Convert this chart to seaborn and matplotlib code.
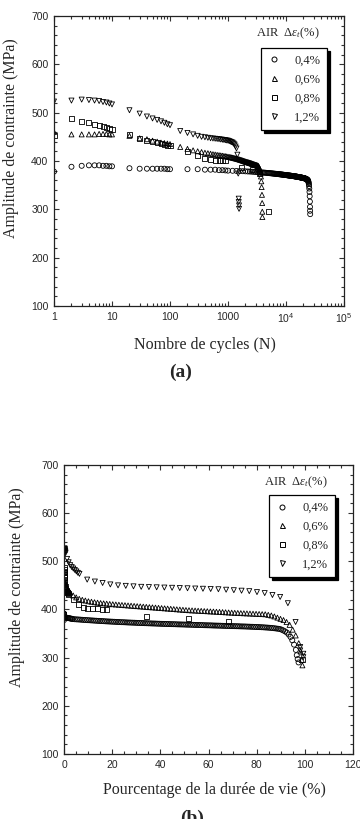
import seaborn as sns
import pandas as pd
import numpy as np
import matplotlib.pyplot as plt
from matplotlib.lines import Line2D
from matplotlib.ticker import LogLocator, MultipleLocator, NullFormatter


strains = ['0,4%', '0,6%', '0,8%', '1,2%']
markers = {'0,4%': 'o', '0,6%': '^', '0,8%': 's', '1,2%': 'v'}
# fatigue life (cycles) used for the % of life panel
life = {'0,4%': 26800, '0,6%': 3950, '0,8%': 5050, '1,2%': 1560}

cycles_04 = [1, 2, 3, 4, 5, 6, 7, 8, 9, 10, 20, 30, 40, 50, 60, 70, 80, 90, 100,
             200, 300, 400, 500, 600, 700, 800, 900,
             1000, 1200, 1400, 1600, 1800, 2000, 2200, 2400, 2600, 2800,
             3000, 3200, 3400, 3600, 3800, 4000, 4200, 4400, 4600, 4800,
             5000, 5200, 5400, 5600, 5800, 6000, 6200, 6400, 6600, 6800,
             7000, 7200, 7400, 7600, 7800, 8000, 8200, 8400, 8600, 8800,
             9000, 9200, 9400, 9600, 9800, 10000, 10200, 10400, 10600, 10800,
             11000, 11200, 11400, 11600, 11800, 12000, 12200, 12400, 12600, 12800,
             13000, 13200, 13400, 13600, 13800, 14000, 14200, 14400, 14600, 14800,
             15000, 15200, 15400, 15600, 15800, 16000, 16200, 16400, 16600, 16800,
             17000, 17200, 17400, 17600, 17800, 18000, 18200, 18400, 18600, 18800,
             19000, 19200, 19400, 19600, 19800, 20000, 20200, 20400, 20600, 20800,
             21000, 21200, 21400, 21600, 21800, 22000, 22200, 22400, 22600, 22800,
             23000, 23200, 23400, 23600, 23800, 24000, 24200, 24400, 24600, 24800,
             25000, 25200, 25400, 25600, 25800, 25900, 26000, 26100]
stress_04 = [378, 388, 390, 391, 391, 391, 390, 390, 389, 389, 385, 384, 384, 384, 384, 384, 384, 383, 383,
             383, 383, 382, 382, 382, 381, 381, 380.5,
             380.0, 379.7, 379.4, 379.2, 378.9, 378.6, 378.3, 378.1, 377.8, 377.6,
             377.3, 377.1, 376.8, 376.6, 376.3, 376.1, 375.9, 375.7, 375.4, 375.2,
             375.0, 374.8, 374.6, 374.4, 374.2, 374.0, 373.8, 373.6, 373.5, 373.3,
             373.1, 372.9, 372.8, 372.6, 372.5, 372.3, 372.1, 372.0, 371.8, 371.7,
             371.5, 371.4, 371.2, 371.1, 370.9, 370.8, 370.7, 370.5, 370.4, 370.2,
             370.1, 370.0, 369.9, 369.7, 369.6, 369.5, 369.4, 369.3, 369.1, 369.0,
             368.9, 368.8, 368.7, 368.5, 368.4, 368.3, 368.2, 368.1, 367.9, 367.8,
             367.7, 367.6, 367.5, 367.3, 367.2, 367.1, 367.0, 366.9, 366.7, 366.6,
             366.5, 366.4, 366.3, 366.1, 366.0, 365.9, 365.8, 365.7, 365.5, 365.4,
             365.3, 365.2, 365.1, 364.9, 364.8, 364.7, 364.6, 364.4, 364.3, 364.1,
             364.0, 363.8, 363.6, 363.5, 363.3, 363.1, 362.9, 362.6, 362.4, 362.1,
             361.8, 361.4, 361.0, 360.5, 360.0, 359.5, 358.2, 356.5, 354.5, 352.0,
             348.0, 343.0, 336.0, 327.0, 316.0, 305.0, 297.0, 290.0]

cycles_06 = [1, 2, 3, 4, 5, 6, 7, 8, 9, 10, 20, 30, 40, 50, 60, 70, 80, 90, 100,
             150, 200, 250, 300, 350, 400, 450, 500, 550, 600,
             650, 700, 750, 800, 850, 900, 950, 1000, 1050, 1100,
             1150, 1200, 1250, 1300, 1350, 1400, 1450, 1500, 1550, 1600,
             1650, 1700, 1750, 1800, 1850, 1900, 1950, 2000, 2050, 2100,
             2150, 2200, 2250, 2300, 2350, 2400, 2450, 2500, 2550, 2600,
             2650, 2700, 2750, 2800, 2850, 2900, 2950, 3000, 3050, 3100,
             3150, 3200, 3250, 3300, 3350, 3400, 3450, 3500, 3550, 3600,
             3650, 3700, 3750, 3800, 3850, 3880, 3900, 3910]
stress_06 = [460, 455, 455, 455, 455, 456, 456, 456, 455, 455, 452, 447, 445, 442, 440, 438, 437, 436, 435,
             429, 425, 422, 420, 418.5, 417, 416, 415, 414, 413.3,
             412.6, 412.0, 411.4, 410.8, 410.3, 409.8, 409.3, 408.8, 408.3, 407.8,
             407.3, 406.8, 406.3, 405.8, 405.3, 404.8, 404.3, 403.8, 403.3, 402.8,
             402.3, 401.8, 401.3, 400.8, 400.3, 399.8, 399.3, 398.8, 398.4, 398.0,
             397.7, 397.3, 397.0, 396.6, 396.3, 395.9, 395.6, 395.2, 394.9, 394.5,
             394.1, 393.7, 393.3, 393.0, 392.7, 392.4, 392.1, 391.8, 391.5, 391.2,
             390.9, 390.6, 390.3, 390.0, 388.8, 387.5, 385.5, 383.0, 380.5, 378.0,
             374.0, 368.0, 358.0, 346.0, 330.0, 313.0, 295.0, 284.0]

cycles_08 = [1, 2, 3, 4, 5, 6, 7, 8, 9, 10, 20, 30, 40, 50, 60, 70, 80, 90, 100,
             200, 300, 400, 500, 600, 700, 800, 900, 1725, 2600, 3450, 5000]
stress_08 = [452, 487, 482, 479, 476, 473, 471, 469, 467, 466, 455, 447, 443, 440, 438, 436, 435, 433, 432,
             420, 411, 405, 403, 402, 401, 400.5, 400, 386, 382, 374, 296]

cycles_12 = [1, 2, 3, 4, 5, 6, 7, 8, 9, 10, 20, 30, 40, 50, 60, 70, 80, 90, 100,
             150, 200, 250, 300, 350, 400, 450, 500, 550, 600,
             650, 700, 750, 800, 850, 900, 950, 1000, 1050, 1100,
             1150, 1200, 1250, 1300, 1350, 1400, 1450, 1500,
             1530, 1530, 1550, 1550]
stress_12 = [523, 525, 527, 526, 525, 524, 522, 521, 519, 517, 505, 498, 492, 488, 485, 482, 479, 476, 474,
             462, 458, 455, 452, 450, 449, 448, 447, 446.5, 446,
             445.5, 445, 444.5, 444, 443.5, 443, 442.5, 442, 441, 440,
             439, 438, 436, 434, 430, 426, 413, 374,
             322, 315, 308, 301]

x_ticks = [1, 10, 100, 1000, 1e4, 1e5]
x_ticklabels = ['1', '10', '100', '1000', r'$\mathsf{10^4}$', r'$\mathsf{10^5}$']


frames = []
for name, n, s in zip(strains, [cycles_04, cycles_06, cycles_08, cycles_12],
                      [stress_04, stress_06, stress_08, stress_12]):
    d = pd.DataFrame({'cycles': n, 'stress': s})
    d['strain'] = name
    d['pct'] = d['cycles'] / life[name] * 100
    frames.append(d)
df = pd.concat(frames, ignore_index=True)

sns.set_style('ticks')
plt.rcParams['font.family'] = ['Liberation Sans', 'DejaVu Sans']
plt.rcParams['mathtext.fontset'] = 'custom'
plt.rcParams['mathtext.rm'] = 'Liberation Serif'
plt.rcParams['mathtext.it'] = 'Liberation Serif:italic'
plt.rcParams['mathtext.sf'] = 'Liberation Sans'
plt.rcParams['mathtext.fallback'] = 'stix'
serif = 'Liberation Serif'

fig = plt.figure(figsize=(3.6, 8.19), dpi=100)
ax1 = fig.add_axes([0.15, 0.6264, 0.8056, 0.3541])
ax2 = fig.add_axes([0.1778, 0.0794, 0.8028, 0.3529])


def style_axes(ax):
    ax.set_ylim(100, 700)
    ax.yaxis.set_major_locator(MultipleLocator(100))
    ax.yaxis.set_minor_locator(MultipleLocator(20))
    ax.tick_params(which='both', direction='in', top=True, right=True,
                   labelsize=7.5, width=0.8, color='#333333')
    ax.tick_params(which='major', length=3.5, pad=4)
    ax.tick_params(which='minor', length=2)
    for sp in ax.spines.values():
        sp.set_linewidth(0.9)
        sp.set_color('#222222')
    ax.set_ylabel('Amplitude de contrainte (MPa)', family=serif, fontsize=11.5)
    handles = [Line2D([], [], marker=markers[k], ls='none', mfc='none', mec='k',
                      ms=3.6, mew=0.7) for k in strains]
    leg = ax.legend(handles, strains, loc='upper right', frameon=True, fancybox=False,
                    edgecolor='k', shadow={'color': 'k', 'alpha': 1},
                    prop={'family': serif, 'size': 9}, handlelength=1.0,
                    handletextpad=1.1, borderpad=0.55, labelspacing=0.55,
                    borderaxespad=0, framealpha=1)
    leg.get_frame().set_linewidth(0.9)
    return leg


# (a) stress amplitude vs number of cycles
sns.scatterplot(data=df, x='cycles', y='stress', style='strain', markers=markers,
                style_order=strains, facecolor='none', edgecolor='k', linewidth=0.6,
                s=13, legend=False, ax=ax1)
ax1.set_xscale('log')
ax1.set_xlim(1, 1e5)
ax1.set_xticks(x_ticks, x_ticklabels)
ax1.xaxis.set_minor_locator(LogLocator(base=10, subs=np.arange(2, 10), numticks=20))
ax1.xaxis.set_minor_formatter(NullFormatter())
leg1 = style_axes(ax1)
leg1.set_bbox_to_anchor((0.941, 0.890), transform=ax1.transAxes)
ax1.set_xlabel('Nombre de cycles (N)', family=serif, fontsize=11.5)
ax1.xaxis.set_label_coords(0.52, -0.107)
ax1.yaxis.set_label_coords(-0.122, 0.58)
ax1.text(0.807, 0.941, r'AIR  $\Delta\varepsilon_t$(%)', transform=ax1.transAxes,
         ha='center', va='center', family=serif, fontsize=9)

# (b) stress amplitude vs percentage of life
sns.scatterplot(data=df, x='pct', y='stress', style='strain', markers=markers,
                style_order=strains, facecolor='none', edgecolor='k', linewidth=0.6,
                s=13, legend=False, ax=ax2)
ax2.set_xlim(0, 120)
ax2.xaxis.set_major_locator(MultipleLocator(20))
ax2.xaxis.set_minor_locator(MultipleLocator(5))
leg2 = style_axes(ax2)
leg2.set_bbox_to_anchor((0.938, 0.896), transform=ax2.transAxes)
ax2.set_xlabel('Pourcentage de la durée de vie (%)', family=serif, fontsize=11.5)
ax2.xaxis.set_label_coords(0.519, -0.097)
ax2.yaxis.set_label_coords(-0.136, 0.578)
ax2.text(0.803, 0.941, r'AIR  $\Delta\varepsilon_t$(%)', transform=ax2.transAxes,
         ha='center', va='center', family=serif, fontsize=9)

fig.text(0.502, 1 - 372 / 819, '(a)', ha='center', va='center', family=serif,
         fontweight='bold', fontsize=14)
fig.text(0.533, 1 - 810 / 819, '(b)', ha='center', va='top', family=serif,
         fontweight='bold', fontsize=14)

fig.savefig('out.png', dpi=100)
